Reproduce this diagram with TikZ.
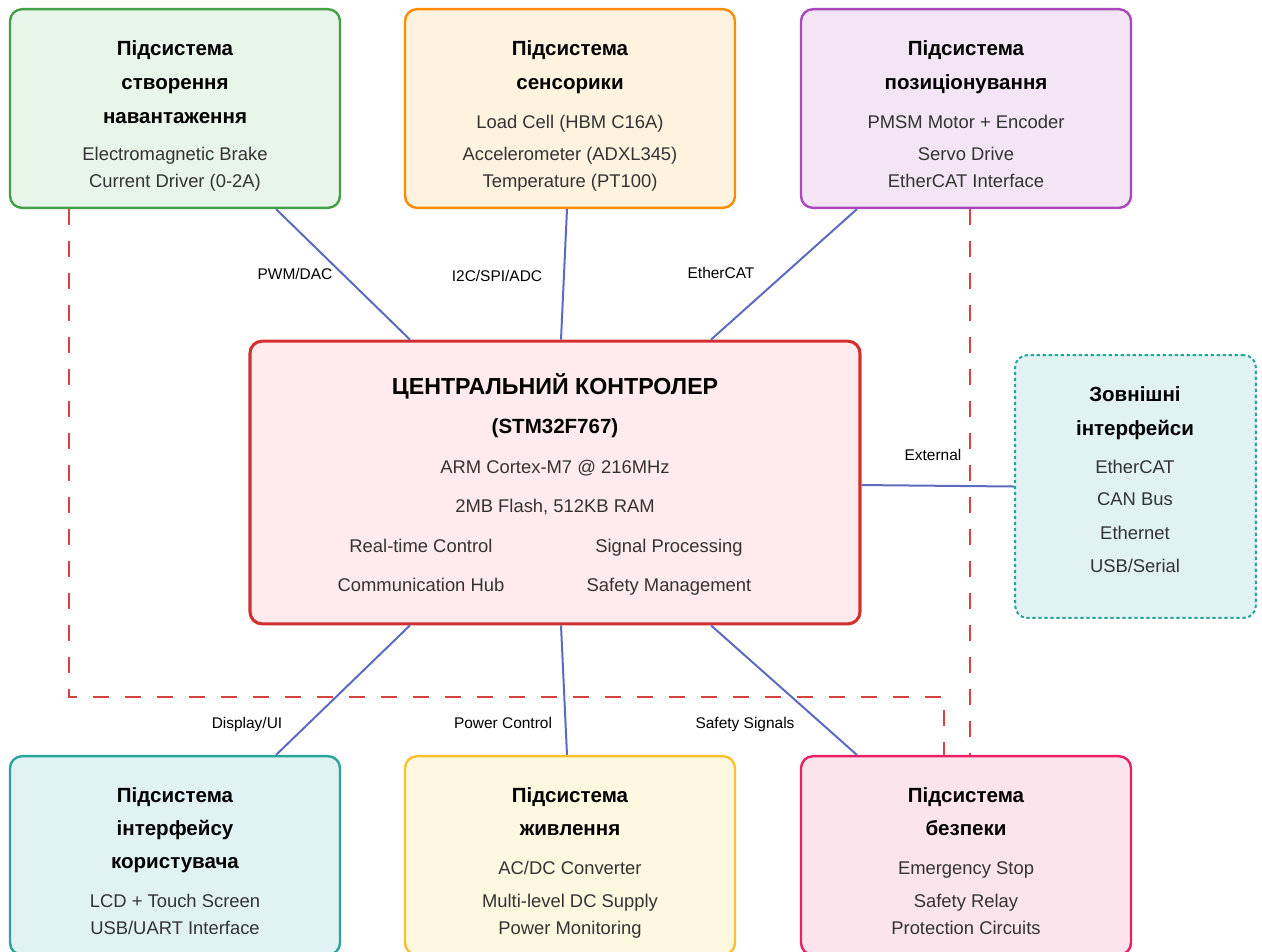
\documentclass[tikz,border=0pt]{standalone}
\usepackage{fontspec}
\setmainfont{Liberation Sans}
\usetikzlibrary{calc}
\definecolor{loadstroke}{HTML}{43A047}\definecolor{loadfill}{HTML}{E8F5E9}
\definecolor{sensstroke}{HTML}{FB8C00}\definecolor{sensfill}{HTML}{FFF3E0}
\definecolor{posstroke}{HTML}{AB47BC}\definecolor{posfill}{HTML}{F3E5F5}
\definecolor{ctrlstroke}{HTML}{D32F2F}\definecolor{ctrlfill}{HTML}{FFEBEE}
\definecolor{extstroke}{HTML}{26A69A}\definecolor{extfill}{HTML}{E0F2F1}
\definecolor{uistroke}{HTML}{26A69A}\definecolor{uifill}{HTML}{E0F2F1}
\definecolor{pwrstroke}{HTML}{FBC02D}\definecolor{pwrfill}{HTML}{FFF8E1}
\definecolor{safestroke}{HTML}{E91E63}\definecolor{safefill}{HTML}{FCE4EC}
\definecolor{linkblue}{HTML}{5C6BC0}
\definecolor{safered}{HTML}{D6453D}
\definecolor{txtgray}{HTML}{333333}
\begin{document}
\begin{tikzpicture}[x=0.75pt,y=-0.75pt,
  box/.style={draw, rounded corners=9pt, line width=1.8pt, inner sep=0pt},
  tb/.style={font=\bfseries\fontsize{15.4}{18}\selectfont, anchor=base, inner sep=0pt, text=black},
  tt/.style={font=\bfseries\fontsize{17.4}{20}\selectfont, anchor=base, inner sep=0pt, text=black},
  tn/.style={font=\fontsize{13.8}{16}\selectfont, anchor=base, inner sep=0pt, text=txtgray},
  lbl/.style={font=\fontsize{11.6}{14}\selectfont, anchor=base, inner sep=0pt, text=black},
  link/.style={draw=linkblue, line width=1.5pt},
  safelink/.style={draw=safered, line width=2pt, dash pattern=on 12pt off 12pt}]
\useasboundingbox (0,0) rectangle (1262,951);

% ---------- boxes ----------
\node[box, draw=loadstroke, fill=loadfill, minimum width=247.5pt, minimum height=149pt] (load) at (175,108.5) {};
\node[box, draw=sensstroke, fill=sensfill, minimum width=247.5pt, minimum height=149pt] (sens) at (570,108.5) {};
\node[box, draw=posstroke, fill=posfill, minimum width=247.5pt, minimum height=149pt] (pos) at (966,108.5) {};
\node[box, draw=ctrlstroke, fill=ctrlfill, line width=2.3pt, minimum width=457.5pt, minimum height=212pt] (ctrl) at (555,482.5) {};
\node[box, draw=extstroke, fill=extfill, line width=1.5pt, dash pattern=on 2.5pt off 2pt, minimum width=180.5pt, minimum height=197pt] (ext) at (1135.5,486.5) {};
\node[box, draw=uistroke, fill=uifill, minimum width=247.5pt, minimum height=149pt] (ui) at (175,855.5) {};
\node[box, draw=pwrstroke, fill=pwrfill, minimum width=247.5pt, minimum height=149pt] (pwr) at (570,855.5) {};
\node[box, draw=safestroke, fill=safefill, minimum width=247.5pt, minimum height=149pt] (safe) at (966,855.5) {};

% ---------- safety chain (dashed) ----------
\coordinate (sa) at (69,697);
\coordinate (sb) at (944,697);
\draw[safelink] ([xshift=-79.5pt]load.south) -- (sa) -- (sb) -- (sb |- safe.north);
\draw[safelink] ([xshift=3pt]pos.south) -- ([xshift=3pt]safe.north);

% ---------- data links ----------
\draw[link] ([xshift=75.75pt]load.south) -- ([xshift=-108.75pt]ctrl.north);
\draw[link] ([xshift=-2.25pt]sens.south) -- ([xshift=4.5pt]ctrl.north);
\draw[link] ([xshift=-81.75pt]pos.south) -- ([xshift=117pt]ctrl.north);
\draw[link] ([yshift=-1.9pt]ctrl.east) -- (ext.west);
\draw[link] ([xshift=-108.75pt]ctrl.south) -- ([xshift=75.75pt]ui.north);
\draw[link] ([xshift=4.5pt]ctrl.south) -- ([xshift=-2.25pt]pwr.north);
\draw[link] ([xshift=117pt]ctrl.south) -- ([xshift=-81.75pt]safe.north);

% ---------- link labels ----------
\node[lbl] (l1) at (295,279) {PWM/DAC};
\node[lbl] (l2) at (497,281) {I2C/SPI/ADC};
\node[lbl] (l3) at (721,278) {EtherCAT};
\node[lbl] (l4) at (933,460) {External};
\node[lbl] (l5) at (247,728) {Display/UI};
\node[lbl] (l6) at (503,728) {Power Control};
\node[lbl] (l7) at (745,728) {Safety Signals};

% ---------- load subsystem ----------
\node[tb] (loadA) at (175,55) {Підсистема};
\node[tb] (loadB) at (175,89) {створення};
\node[tb] (loadC) at (175,123) {навантаження};
\node[tn] (loadD) at (175,160) {Electromagnetic Brake};
\node[tn] (loadE) at (175,187) {Current Driver (0-2A)};

% ---------- sensor subsystem ----------
\node[tb] (sensA) at (570,55) {Підсистема};
\node[tb] (sensB) at (570,89) {сенсорики};
\node[tn] (sensC) at (570,128) {Load Cell (HBM C16A)};
\node[tn] (sensD) at (570,160) {Accelerometer (ADXL345)};
\node[tn] (sensE) at (570,187) {Temperature (PT100)};

% ---------- positioning subsystem ----------
\node[tb] (posA) at (966,55) {Підсистема};
\node[tb] (posB) at (966,89) {позиціонування};
\node[tn] (posC) at (966,128) {PMSM Motor + Encoder};
\node[tn] (posD) at (966,160) {Servo Drive};
\node[tn] (posE) at (966,187) {EtherCAT Interface};

% ---------- central controller ----------
\node[tt] (ctrlA) at (555,394) {ЦЕНТРАЛЬНИЙ КОНТРОЛЕР};
\node[tb] (ctrlB) at (555,433) {(STM32F767)};
\node[tn] (ctrlC) at (555,473) {ARM Cortex-M7 @ 216MHz};
\node[tn] (ctrlD) at (555,512) {2MB Flash, 512KB RAM};
\node[tn] (ctrlE) at (421,552) {Real-time Control};
\node[tn] (ctrlF) at (669,552) {Signal Processing};
\node[tn] (ctrlG) at (421,591) {Communication Hub};
\node[tn] (ctrlH) at (669,591) {Safety Management};

% ---------- external interfaces ----------
\node[tb] (extA) at (1135,401) {Зовнішні};
\node[tb] (extB) at (1135,435) {інтерфейси};
\node[tn] (extC) at (1135,473) {EtherCAT};
\node[tn] (extD) at (1135,505) {CAN Bus};
\node[tn] (extE) at (1135,539) {Ethernet};
\node[tn] (extF) at (1135,572) {USB/Serial};

% ---------- user interface subsystem ----------
\node[tb] (uiA) at (175,802) {Підсистема};
\node[tb] (uiB) at (175,835) {інтерфейсу};
\node[tb] (uiC) at (175,868) {користувача};
\node[tn] (uiD) at (175,907) {LCD + Touch Screen};
\node[tn] (uiE) at (175,934) {USB/UART Interface};

% ---------- power subsystem ----------
\node[tb] (pwrA) at (570,802) {Підсистема};
\node[tb] (pwrB) at (570,835) {живлення};
\node[tn] (pwrC) at (570,874) {AC/DC Converter};
\node[tn] (pwrD) at (570,907) {Multi-level DC Supply};
\node[tn] (pwrE) at (570,934) {Power Monitoring};

% ---------- safety subsystem ----------
\node[tb] (safeA) at (966,802) {Підсистема};
\node[tb] (safeB) at (966,835) {безпеки};
\node[tn] (safeC) at (966,874) {Emergency Stop};
\node[tn] (safeD) at (966,907) {Safety Relay};
\node[tn] (safeE) at (966,934) {Protection Circuits};
\end{tikzpicture}
\end{document}
